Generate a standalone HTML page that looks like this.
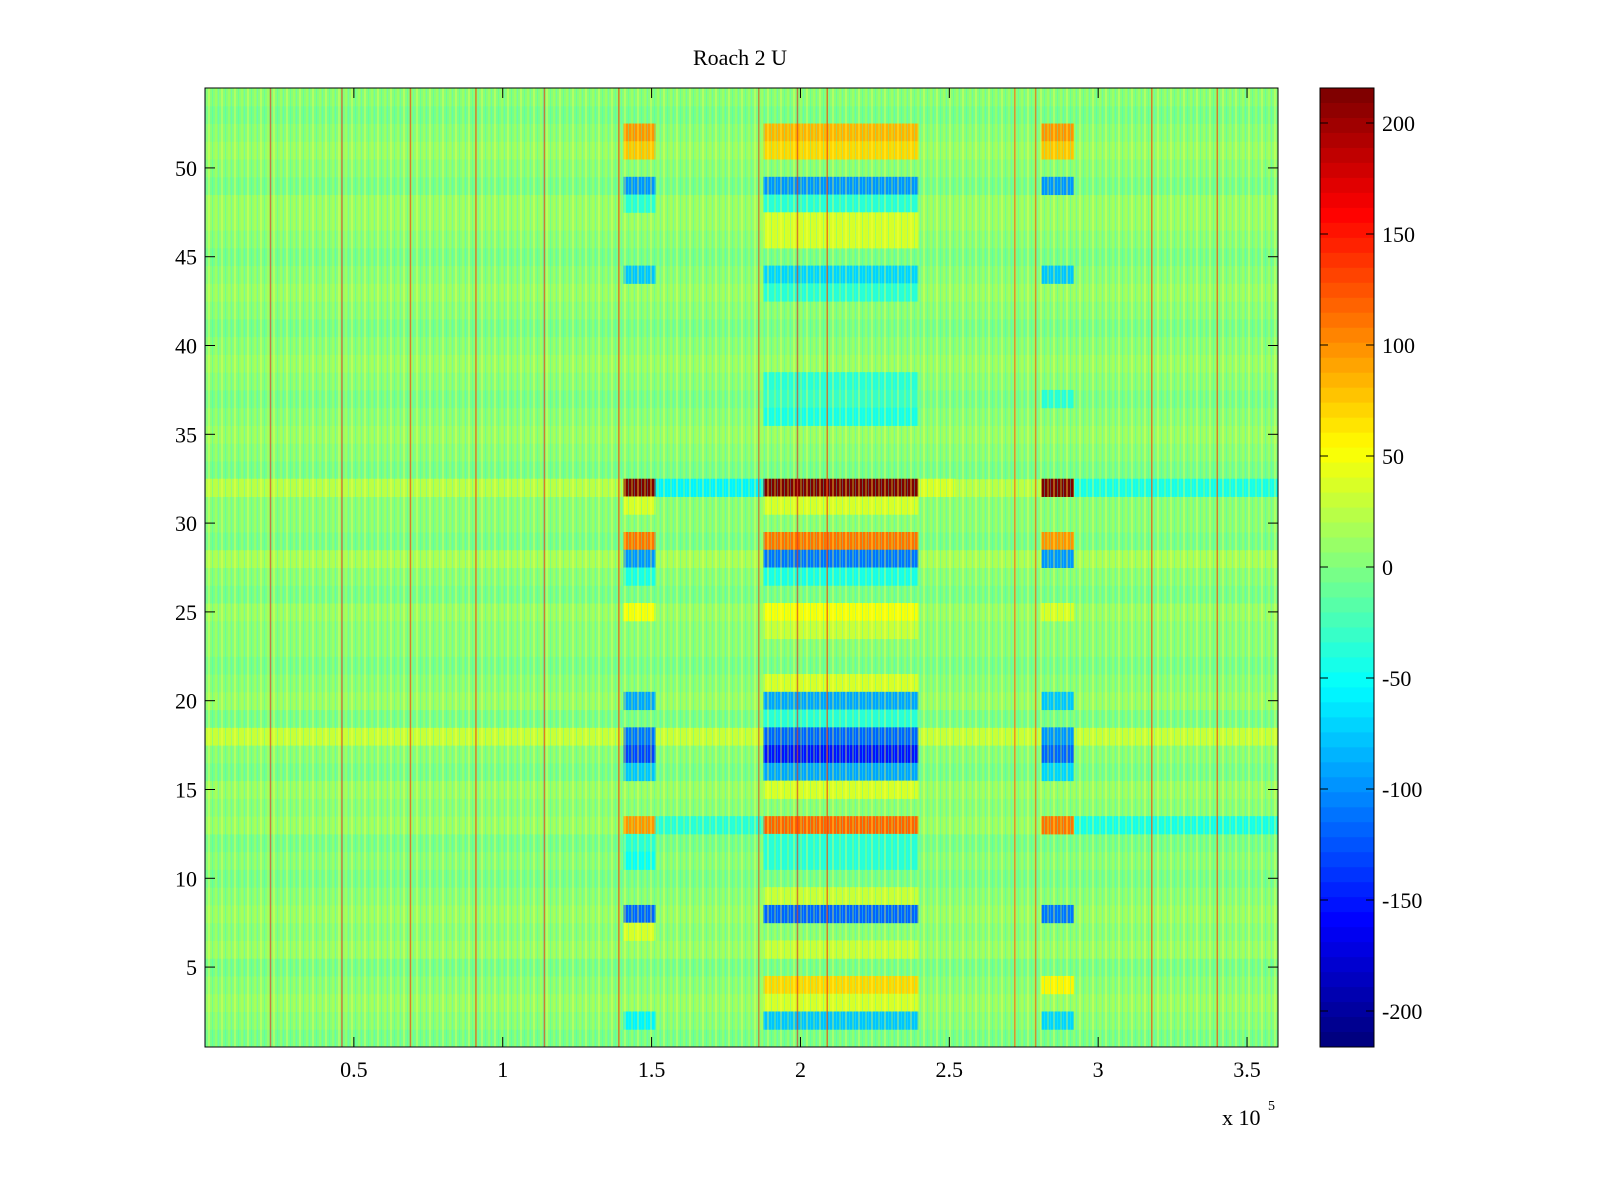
<!DOCTYPE html>
<html><head><meta charset="utf-8"><style>
html,body{margin:0;padding:0;background:#fff;}
svg{display:block;font-family:"Liberation Serif",serif;}
</style></head><body>
<svg id="chart" width="1600" height="1200" viewBox="0 0 1600 1200">
<defs>
<pattern id="noise" x="0" y="0" width="13" height="18" patternUnits="userSpaceOnUse">
<rect x="0" y="0" width="2" height="18" fill="#ffff40" opacity="0.35"/>
<rect x="4" y="0" width="1" height="18" fill="#30ffd0" opacity="0.35"/>
<rect x="7" y="0" width="2" height="18" fill="#d0ff30" opacity="0.3"/>
<rect x="10" y="0" width="1" height="18" fill="#40f0ff" opacity="0.3"/>
</pattern>
</defs>
<rect width="1600" height="1200" fill="#fff"/>
<text x="740" y="65" font-size="22" text-anchor="middle">Roach 2 U</text>
<g id="cells"></g>
<rect x="205" y="88" width="1073" height="959" fill="url(#noise)"/>
<g id="spikes"></g>
<g id="axes"></g>
<g id="cbar"></g>
</svg>
<script>
// segment edges along x (units of 1e5)
const segEdges = [0, 1.406, 1.513, 1.876, 2.396, 2.52, 2.809, 2.919, 3.604];
// background value per row (rows 1..54)
const rowBase = [0,5,8,5,0,10,5,8,5,0,5,0,10,5,8,0,5,30,0,8,5,0,5,5,8,0,5,15,0,5,5,25,0,5,8,5,0,5,8,5,0,5,8,5,0,5,8,10,0,5,8,5,0,5];
// special cells: row, segment index, value
const cellRow = [52,51,52,51,52,51, 49,49,49,48,48, 47,46, 44,44,44,43, 38,37,36,37, 32,32,32,32,32,32,32, 31,31, 29,29,29, 28,28,28, 27,27, 25,25,25, 24, 21, 20,20,20, 19, 18,18,18, 17,17,17, 16,16,16, 15, 13,13,13,13,13, 12,12, 11,11, 9, 8,8,8, 7, 6, 4,4, 3, 2,2,2];
const cellSeg = [1,1,3,3,6,6, 1,3,6,1,3, 3,3, 1,3,6,3, 3,3,3,6, 0,1,2,3,4,6,7, 3,1, 1,3,6, 1,3,6, 1,3, 1,3,6, 3, 3, 1,3,6, 3, 1,3,6, 1,3,6, 1,3,6, 3, 1,2,3,6,7, 1,3, 1,3, 3, 1,3,6, 1, 3, 3,6, 3, 1,3,6];
const cellVal = [100,80,85,70,95,80, -100,-100,-95,-40,-35, 40,35, -80,-70,-80,-40, -40,-30,-45,-40, 25,216,-60,216,40,216,-45, 40,40, 110,110,100, -100,-110,-95, -45,-45, 50,50,40, 30, 40, -90,-90,-80, -35, -110,-120,-100, -130,-150,-120, -80,-90,-70, 40, 100,-40,120,110,-45, -40,-40, -50,-40, 30, -120,-120,-110, 40, 30, 70,60, 40, -60,-80,-70];
// vertical spike columns (x in 1e5) and values
const spikeX = [0.22,0.46,0.69,0.91,1.14,1.39,1.86,1.99,2.09,2.72,2.79,3.18,3.40];
const spikeVal = [150,150,150,150,150,150,140,150,150,140,140,150,150];
const xTicks = [0.5,1,1.5,2,2.5,3,3.5];
const yTicks = [5,10,15,20,25,30,35,40,45,50];
const cTicks = [200,150,100,50,0,-50,-100,-150,-200];

const L=205,R=1278,T=88,B=1047, xmax=3.604, cmin=-216,cmax=216;
const xs=v=>L+(v/xmax)*(R-L);
const rowH=(B-T)/54;
const ys=v=>T+(54.5-v)*rowH;
function jet(v){
  let t=(v-cmin)/(cmax-cmin); t=Math.max(0,Math.min(1,t));
  t=Math.floor(t*63.999)/63;
  const f=x=>Math.round(255*Math.max(0,Math.min(1,x)));
  return `rgb(${f(1.5-Math.abs(4*t-3))},${f(1.5-Math.abs(4*t-2))},${f(1.5-Math.abs(4*t-1))})`;
}
const NS="http://www.w3.org/2000/svg";
function mk(tag,attrs,parent){const e=document.createElementNS(NS,tag);for(const k in attrs)e.setAttribute(k,attrs[k]);parent.appendChild(e);return e;}
const cells=document.getElementById('cells');
for(let r=1;r<=54;r++){
  const e=mk('rect',{x:L,y:ys(r+0.5),width:R-L,height:rowH+0.5,fill:jet(rowBase[r-1])},cells);
  
  
}
for(let i=0;i<cellRow.length;i++){
  const s=cellSeg[i];
  const e=mk('rect',{x:xs(segEdges[s]),y:ys(cellRow[i]+0.5),width:xs(segEdges[s+1])-xs(segEdges[s]),height:rowH+0.5,fill:jet(cellVal[i])},cells);
  
  
}
const sp=document.getElementById('spikes');
for(let i=0;i<spikeX.length;i++){
  const e=mk('rect',{x:xs(spikeX[i])-0.75,y:T,width:1.5,height:B-T,fill:jet(spikeVal[i]),opacity:0.55},sp);
  
  
}
const ax=document.getElementById('axes');
mk('rect',{x:L,y:T,width:R-L,height:B-T,fill:'none',stroke:'#000','stroke-width':1},ax);
xTicks.forEach(v=>{const x=xs(v);
  mk('line',{x1:x,y1:B,x2:x,y2:B-10,stroke:'#000'},ax);mk('line',{x1:x,y1:T,x2:x,y2:T+10,stroke:'#000'},ax);
  const t=mk('text',{x:x,y:B+30,'font-size':22,'text-anchor':'middle'},ax);t.textContent=v;
  
  });
yTicks.forEach(v=>{const y=ys(v);
  mk('line',{x1:L,y1:y,x2:L+10,y2:y,stroke:'#000'},ax);mk('line',{x1:R,y1:y,x2:R-10,y2:y,stroke:'#000'},ax);
  const t=mk('text',{x:L-8,y:y+8,'font-size':22,'text-anchor':'end'},ax);t.textContent=v;
  
  });
const ex=mk('text',{x:1222,y:1125,'font-size':22},ax);ex.textContent='x 10';


const ex2=mk('text',{x:1268,y:1110,'font-size':14},ax);ex2.textContent='5';
const cb=document.getElementById('cbar');
const CL=1320,CR=1374;
const cy=v=>567-v*2.22;
for(let i=0;i<64;i++){
  const v0=cmin+(cmax-cmin)*i/64, v1=cmin+(cmax-cmin)*(i+1)/64;
  mk('rect',{x:CL,y:cy(v1),width:CR-CL,height:cy(v0)-cy(v1)+0.5,fill:jet((v0+v1)/2)},cb);
}
mk('rect',{x:CL,y:T,width:CR-CL,height:B-T,fill:'none',stroke:'#000'},cb);
cTicks.forEach(v=>{const y=cy(v);
  mk('line',{x1:CL,y1:y,x2:CL+8,y2:y,stroke:'#000'},cb);mk('line',{x1:CR,y1:y,x2:CR-8,y2:y,stroke:'#000'},cb);
  const t=mk('text',{x:CR+8,y:y+8,'font-size':22},cb);t.textContent=v;
  
  });
</script>
</body></html>
